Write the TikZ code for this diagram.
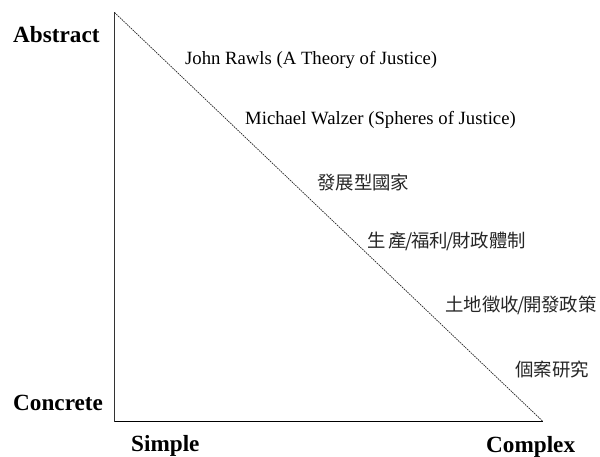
\documentclass[tikz,border=0pt]{standalone}
\usepackage{fontspec}
\setmainfont{Liberation Serif}
\newfontfamily\cjk{Noto Sans CJK TC}
\newcommand{\slsh}{\hspace{-1.5pt}/\hspace{-1.5pt}}
\begin{document}
\begin{tikzpicture}[x=1pt,y=-1pt,
  axislbl/.style={font=\fontsize{23.2}{25}\selectfont\bfseries, inner sep=0pt, anchor=base west},
  theory/.style={font=\fontsize{18.7}{20}\selectfont, inner sep=0pt, anchor=base west},
  cjklbl/.style={font=\cjk\fontsize{18.4}{20}\selectfont, inner sep=0pt, anchor=west, text=black!85},
  axisline/.style={line width=1.4pt, draw=black!80},
  diag/.style={line width=0.7pt, dash pattern=on 1.6pt off 0.9pt, draw=black!85}]
\useasboundingbox (0,0) rectangle (600,457);
\coordinate (top) at (114.5,12.5);
\coordinate (origin) at (114.5,421.5);
\coordinate (right) at (543,421.5);
\draw[axisline] (top) -- (origin);
\draw[axisline, draw=black] (origin) -- (right);
\draw[diag] (top) -- (right);
\node[axislbl] (abstract) at (13,43) {Abstract};
\node[axislbl] (concrete) at (13,410) {Concrete};
\node[axislbl] (simple) at (131,451) {Simple};
\node[axislbl] (complex) at (486,452) {Complex};
\node[theory] (rawls) at (185,65) {John Rawls (A Theory of Justice)};
\node[theory] (walzer) at (245,125) {Michael Walzer (Spheres of Justice)};
\node[cjklbl] (dev) at (317,182) {發展型國家};
\node[cjklbl] (prod) at (367,241) {生\hspace{3pt}產\slsh 福利\slsh 財政體制};
\node[cjklbl] (land) at (445,305) {土地徵收\slsh 開發政策};
\node[cjklbl] (case) at (515,370) {個案研究};
\end{tikzpicture}
\end{document}
